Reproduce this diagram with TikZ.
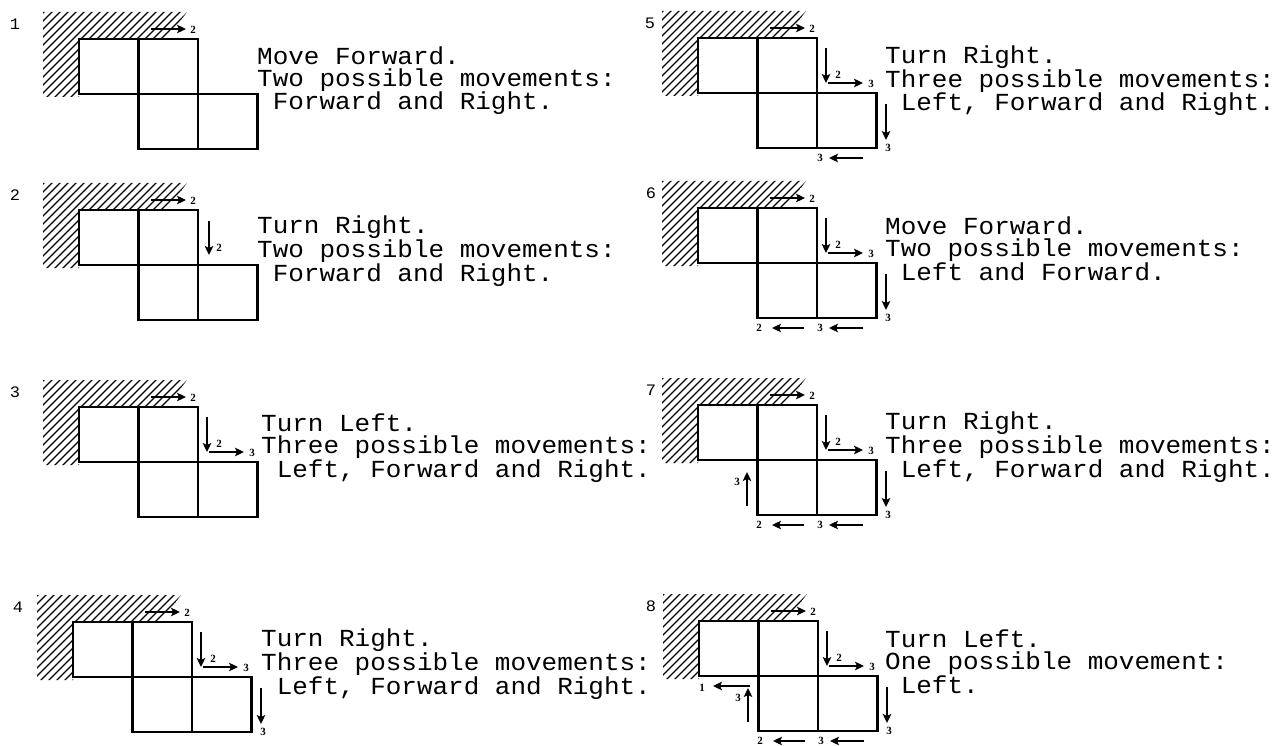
\documentclass[tikz,border=0pt]{standalone}
\usepackage{fontspec}
\setmainfont{Liberation Serif}
\newfontfamily\typefont[FakeStretch=1.06]{Liberation Mono}
\usetikzlibrary{arrows.meta}

\begin{document}
\begin{tikzpicture}[x=1pt, y=-1pt,
  hatch/.style={line width=1.3pt},
  cell/.style={line width=2.2pt},
  mv/.style={line width=1.8pt, -{Stealth[length=9pt, width=8.5pt, inset=2pt]}},
  tag/.style={font=\fontsize{11}{11}\selectfont\bfseries, inner sep=0pt},
  num/.style={font=\typefont\fontsize{16}{16}\selectfont, inner sep=0pt},
  say/.style={font=\typefont\fontsize{24.5}{22}\selectfont, align=left, anchor=base west, inner sep=0pt},
  board/.pic={
    \begin{scope}
      \clip (-36,-27) -- (108,-27) -- (88,0) -- (0,0) -- (0,58) -- (-36,58) -- cycle;
      \foreach \i in {-130,-122,...,110}{\draw[hatch] (\i,60) -- ++(90,-90);}
    \end{scope}
    \draw[cell] (0,0) rectangle (119,55) (59.5,0) -- (59.5,55) (59.5,55) rectangle (178.5,110) (119,55) -- (119,110);},
  ahead/.pic={\draw[mv] (72,-10) -- (107,-10); \node[tag] (-n) at (114,-9) {2};},
  drop/.pic={\draw[mv] (130,11) -- (130,45); \node[tag] (-n) at (140,38) {2};},
  turn/.pic={\draw[mv] (128,10) -- (128,45); \draw[mv] (130,45) -- (165,45);
    \node[tag] (-a) at (140,37) {2}; \node[tag] (-b) at (173,46) {3};},
  side/.pic={\draw[mv] (188,66) -- (188,102); \node[tag] (-n) at (190,110) {3};},
  backa/.pic={\draw[mv] (165,120) -- (131,120); \node[tag] (-n) at (122,120) {3};},
  backb/.pic={\draw[mv] (106,120) -- (74,120); \node[tag] (-n) at (61,120) {2};},
  climb/.pic={\draw[mv] (49,101) -- (49,67); \node[tag] (-n) at (39,77) {3};},
  exit/.pic={\draw[mv] (51,65) -- (14,65); \node[tag] (-n) at (3,67) {1};}]

  \fill[white] (0,0) rectangle (1285,746);
  \useasboundingbox (0,0) rectangle (1285,746);

  \foreach \p/\x/\y/\lx in {1/79/39/15, 2/79/210/15, 3/79/407/15, 4/73/622/18,
                            5/698/38/650, 6/698/208/651, 7/698/405/651, 8/699/621/651}{
    \coordinate (o\p) at (\x,\y);
    \pic (b\p) at (o\p) {board};
    \pic (a\p) at (o\p) {ahead};
    \node[num] (n\p) at (\lx,\y-15) {\p};
  }
  \pic (d2) at (o2) {drop};
  \foreach \p in {3,...,8}{\pic (t\p) at (o\p) {turn};}
  \foreach \p in {4,...,8}{\pic (s\p) at (o\p) {side};}
  \foreach \p in {5,...,8}{\pic (r\p) at (o\p) {backa};}
  \foreach \p in {6,7,8}{\pic (q\p) at (o\p) {backb};}
  \foreach \p in {7,8}{\pic (u\p) at (o\p) {climb};}
  \pic (e8) at (o8) {exit};

  \node[say] (m1) at (257,110) {Move Forward.\\Two possible movements:\\~Forward and Right.};
  \node[say] (m2) at (257,281) {Turn Right.\\Two possible movements:\\~Forward and Right.};
  \node[say] (m3) at (261,477) {Turn Left.\\Three possible movements:\\~Left, Forward and Right.};
  \node[say] (m4) at (261,694) {Turn Right.\\Three possible movements:\\~Left, Forward and Right.};
  \node[say] (m5) at (885,111) {Turn Right.\\Three possible movements:\\~Left, Forward and Right.};
  \node[say] (m6) at (885,280) {Move Forward.\\Two possible movements:\\~Left and Forward.};
  \node[say] (m7) at (885,477) {Turn Right.\\Three possible movements:\\~Left, Forward and Right.};
  \node[say] (m8) at (885,693) {Turn Left.\\One possible movement:\\~Left.};
\end{tikzpicture}
\end{document}
